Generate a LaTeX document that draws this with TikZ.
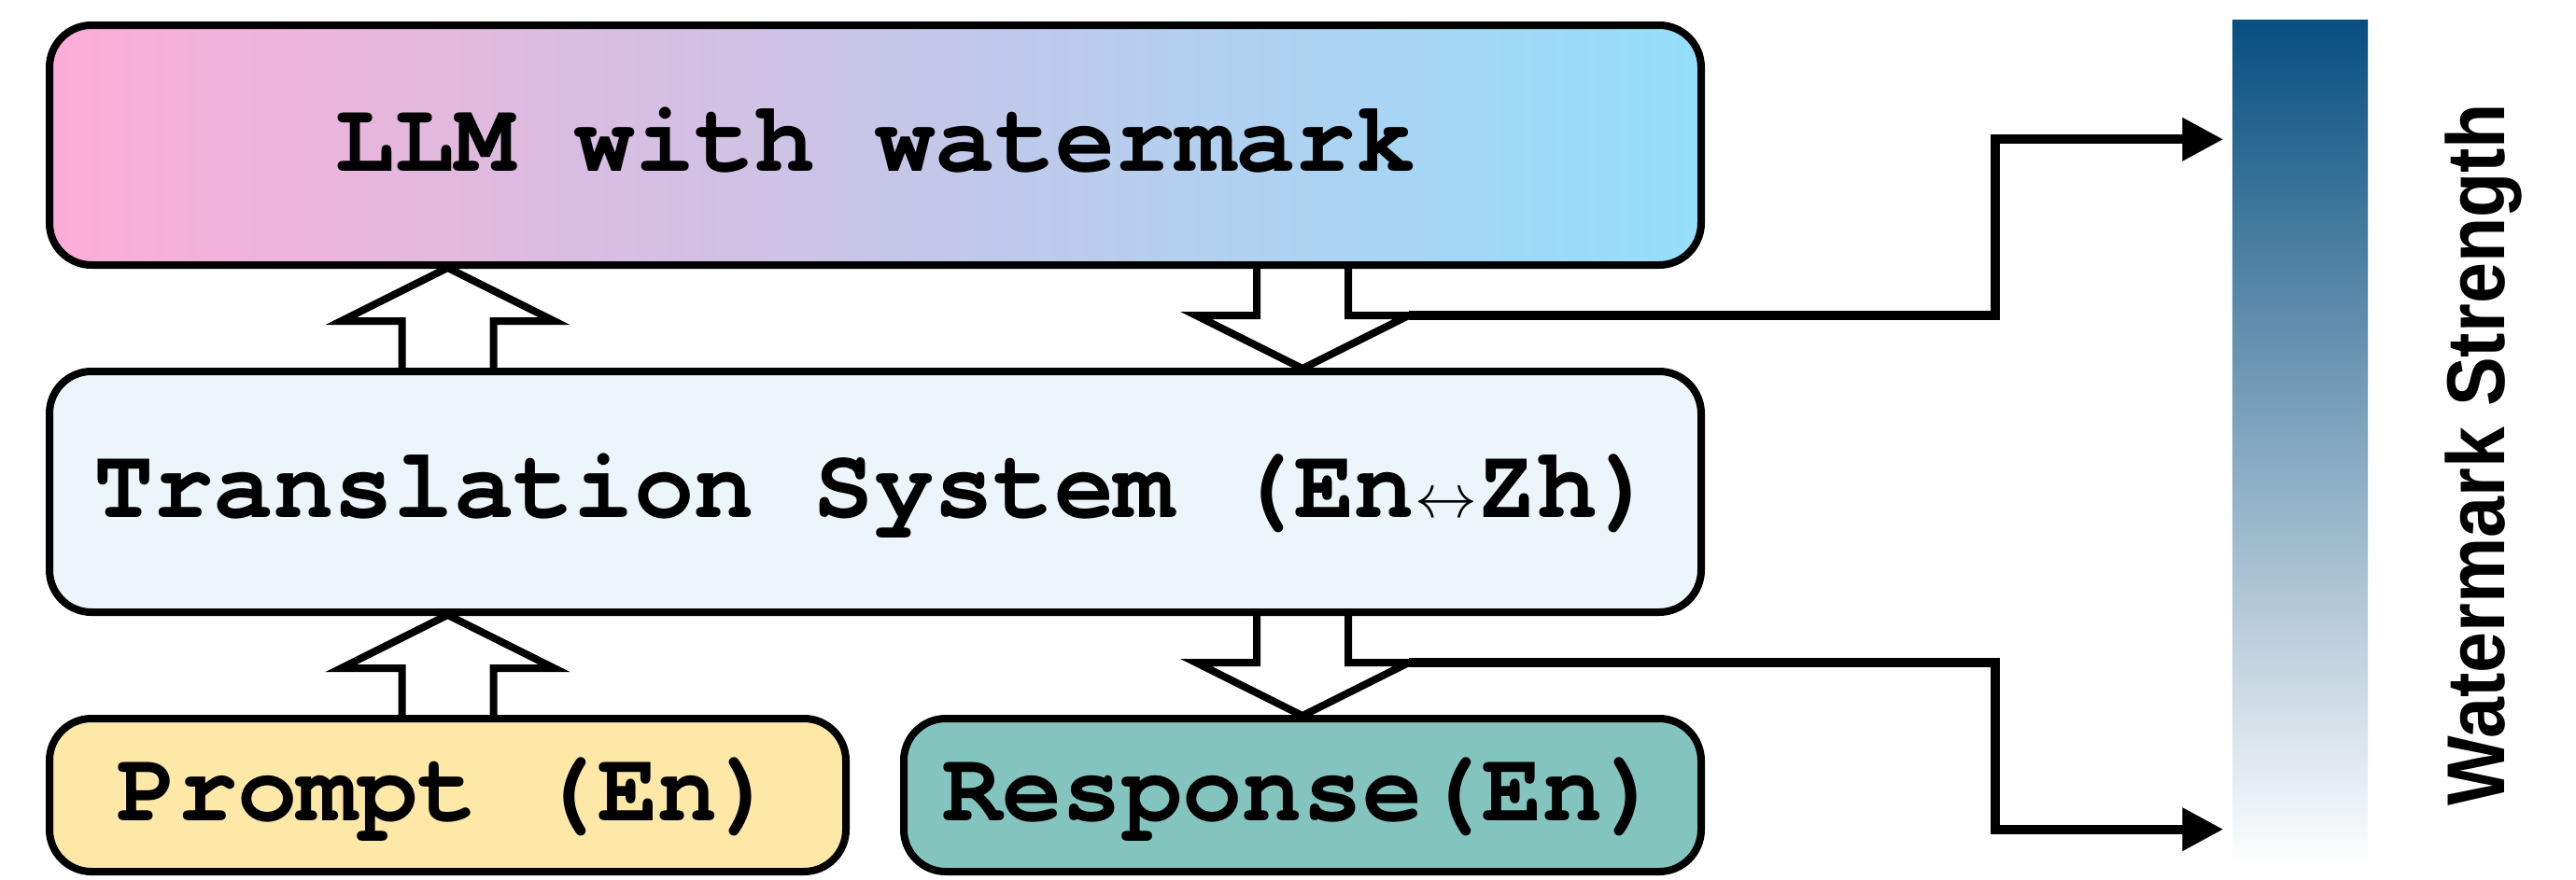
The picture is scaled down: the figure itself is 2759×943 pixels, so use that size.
\RequirePackage{fix-cm}
\documentclass[tikz,border=0pt]{standalone}
\usepackage{fontspec}
\newfontfamily\boxfont{TeX Gyre Cursor}
\newfontfamily\labfont{Liberation Sans}
\usetikzlibrary{arrows.meta,calc}
\pgfdeclarelayer{background}
\pgfsetlayers{background,main}
\definecolor{llmL}{RGB}{251,172,214}
\definecolor{llmR}{RGB}{148,223,250}
\definecolor{transF}{RGB}{236,245,249}
\definecolor{promptF}{RGB}{253,232,168}
\definecolor{respF}{RGB}{131,197,190}
\definecolor{barTop}{RGB}{7,79,128}
\newcommand\blkup[1]{\draw[blk] ([xshift=-4.9mm]#1) -- ++(0,-50) -- ++(-65,0) -- ++(114,-57) -- ++(114,57) -- ++(-65,0) -- ++(0,50);}
\newcommand\blkdown[2]{\draw[blk] ([xshift=-4.9mm]#1) -- ++(0,50) -- ++(-65,0) -- ++(114,57) -- ++(114,-57) coordinate (#2) -- ++(-65,0) -- ++(0,-50);}
\begin{document}
\begin{tikzpicture}[x=0.1mm,y=-0.1mm,
  box/.style={draw=black, line width=0.8mm, rounded corners=4.5mm, inner sep=0pt,
     font={\boxfont\bfseries\fontsize{30.5}{30}\selectfont}, text height=6.2mm, text depth=0.7mm},
  blk/.style={draw=black, fill=white, line width=0.8mm, miter limit=10},
  conn/.style={draw=black, line width=1.0mm, -{Triangle[length=4.4mm,width=4.4mm]}},
  barbox/.style={draw=none, inner sep=0pt, top color=barTop, bottom color=white},
  lab/.style={font={\labfont\bfseries\fontsize{25}{25}\selectfont}, inner sep=0pt}
]
\useasboundingbox (0,0) rectangle (2759,943);

\node[box, left color=llmL, right color=llmR, minimum width=176.9mm, minimum height=25.7mm] (llm) at (937.5,155.5) {LLM with watermark};
\node[box, fill=transF, minimum width=176.9mm, minimum height=25.8mm] (trans) at (937.5,527) {Translation System (En{\fontsize{19}{19}\selectfont$\leftrightarrow$}Zh)};
\node[box, fill=promptF, minimum width=85.3mm, minimum height=16.4mm] (prompt) at (479.5,852) {Prompt (En)};
\node[box, fill=respF, minimum width=85.4mm, minimum height=16.4mm] (resp) at (1395,852) {Response(En)};

\node[barbox, minimum width=14.5mm, minimum height=90.8mm] (bar) at (2463.5,475) {};
\node[lab, rotate=90, xscale=0.9, anchor=base] (lbl) at (2682,487) {Watermark Strength};

\coordinate (u1) at (trans.north -| prompt.north);
\coordinate (u2) at (prompt.north);
\coordinate (d1) at (llm.south -| resp.north);
\coordinate (d2) at (trans.south -| resp.north);

\begin{pgfonlayer}{background}
\blkup{u1}
\blkup{u2}
\blkdown{d1}{c1}
\blkdown{d2}{c2}
\end{pgfonlayer}

\coordinate (j) at (2137,0);
\coordinate (t1) at ([xshift=-0.9mm, yshift=-12.9mm]bar.north west);
\coordinate (t2) at ([xshift=-0.9mm, yshift=4.1mm]bar.south west);
\draw[conn] (c1) -| (j |- t1) -- (t1);
\draw[conn] (c2) -| (j |- t2) -- (t2);
\end{tikzpicture}
\end{document}
